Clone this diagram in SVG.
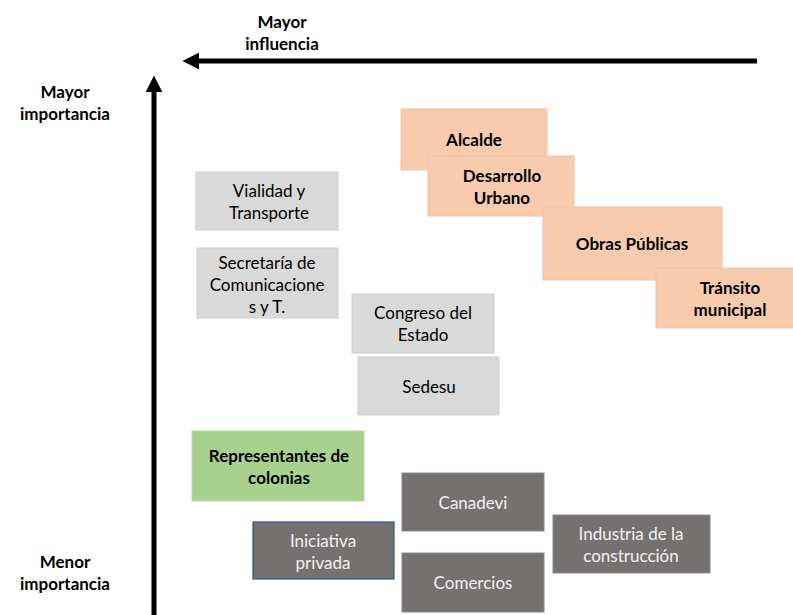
<svg xmlns="http://www.w3.org/2000/svg" width="793" height="615" viewBox="0 0 793 615">
  <style>
    text { font-family: Lato, "Open Sans", "Liberation Sans", sans-serif; font-size: 17px; text-anchor: middle; fill: #000; }
    .b { font-weight: bold; }
    .w { fill: #F2F2F2; }
    .peach { fill: #F8CBAD; stroke: #F0C2A3; stroke-width: 1; }
    .light { fill: #D9D9D9; stroke: #CDCDCD; stroke-width: 1; }
    .green { fill: #A9D18E; stroke: #B9DAA3; stroke-width: 1; }
    .dark { fill: #767171; stroke: #8C8888; stroke-width: 1; }
    .axis { stroke: #000; stroke-width: 5; fill: none; }
  </style>
  <defs>
    <marker id="head" viewBox="0 0 10 10" refX="2" refY="5" markerWidth="3.4" markerHeight="3.4" orient="auto" markerUnits="strokeWidth">
      <path d="M0,0 L10,5 L0,10 Z" fill="#000"/>
    </marker>
  </defs>

  <!-- axis labels -->
  <g id="label-influencia">
    <text class="b" x="282" y="28">Mayor</text>
    <text class="b" x="282" y="50">influencia</text>
  </g>
  <g id="label-mayor-importancia">
    <text class="b" x="65" y="98">Mayor</text>
    <text class="b" x="65" y="120">importancia</text>
  </g>
  <g id="label-menor-importancia">
    <text class="b" x="65" y="568">Menor</text>
    <text class="b" x="65" y="590">importancia</text>
  </g>

  <!-- axes -->
  <g id="connectors">
    <line class="axis" x1="757" y1="61" x2="196" y2="61" marker-end="url(#head)"/>
    <line class="axis" x1="154" y1="615" x2="154" y2="89" marker-end="url(#head)"/>
  </g>

  <!-- high-importance, high-influence actors -->
  <g id="alcalde">
    <rect class="peach" x="401" y="109" width="146" height="61"/>
    <text class="b" x="474" y="146">Alcalde</text>
  </g>
  <g id="desarrollo-urbano">
    <rect class="peach" x="428" y="156" width="146" height="60"/>
    <text class="b" x="502" y="182">Desarrollo</text>
    <text class="b" x="502" y="204">Urbano</text>
  </g>
  <g id="obras-publicas">
    <rect class="peach" x="543" y="207" width="179" height="73"/>
    <text class="b" x="632" y="250">Obras Públicas</text>
  </g>
  <g id="transito-municipal">
    <rect class="peach" x="656" y="268" width="140" height="60"/>
    <text class="b" x="730" y="294">Tránsito</text>
    <text class="b" x="730" y="316">municipal</text>
  </g>

  <!-- government agencies -->
  <g id="vialidad">
    <rect class="light" x="196" y="172" width="142" height="58"/>
    <text x="269" y="197">Vialidad y</text>
    <text x="269" y="219">Transporte</text>
  </g>
  <g id="sct">
    <rect class="light" x="197" y="248" width="141" height="70"/>
    <text x="267" y="269">Secretaría de</text>
    <text x="267" y="291">Comunicacione</text>
    <text x="267" y="313">s y T.</text>
  </g>
  <g id="congreso">
    <rect class="light" x="352" y="294" width="142" height="59"/>
    <text x="423" y="319">Congreso del</text>
    <text x="423" y="341">Estado</text>
  </g>
  <g id="sedesu">
    <rect class="light" x="358" y="357" width="141" height="58"/>
    <text x="429" y="393">Sedesu</text>
  </g>

  <!-- community -->
  <g id="representantes">
    <rect class="green" x="192" y="431" width="172" height="70"/>
    <text class="b" x="279" y="462">Representantes de</text>
    <text class="b" x="279" y="484">colonias</text>
  </g>

  <!-- private sector -->
  <g id="iniciativa-privada">
    <rect x="253" y="522" width="141" height="57" fill="#767171" stroke="#2F528F" stroke-width="1.2"/>
    <text class="w" x="323" y="547">Iniciativa</text>
    <text class="w" x="323" y="569">privada</text>
  </g>
  <g id="canadevi">
    <rect class="dark" x="402" y="473" width="142" height="58"/>
    <text class="w" x="473" y="509">Canadevi</text>
  </g>
  <g id="comercios">
    <rect class="dark" x="402" y="553" width="142" height="59"/>
    <text class="w" x="473" y="589">Comercios</text>
  </g>
  <g id="industria">
    <rect class="dark" x="553" y="515" width="157" height="58"/>
    <text class="w" x="631" y="540">Industria de la</text>
    <text class="w" x="631" y="562">construcción</text>
  </g>
</svg>
